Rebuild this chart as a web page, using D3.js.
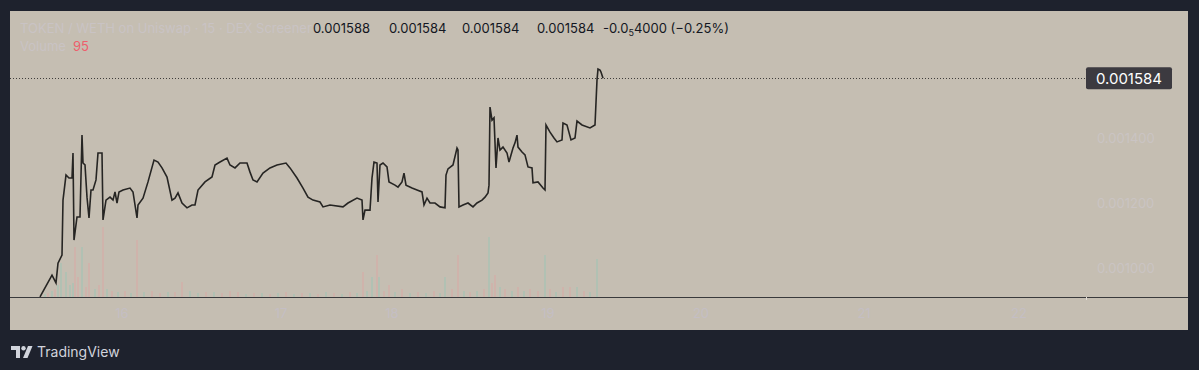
<!DOCTYPE html>
<html>
<head>
<meta charset="utf-8">
<script src="https://cdn.jsdelivr.net/npm/d3@7"></script>
<style>
  html, body { margin: 0; padding: 0; background: #1e222d; }
  svg { display: block; font-family: Inter, "Noto Sans", sans-serif; }
</style>
</head>
<body>
<svg id="chart" width="1199" height="370"></svg>
<script>
let width = 1199, height = 370;

// price line: [bar index, price]
let priceSeries = [
  [28, 0.000911], [40, 0.000978], [44, 0.000954], [46, 0.001015], [50, 0.001040],
  [51, 0.001209], [54, 0.001286], [57, 0.001277], [60, 0.001277], [61, 0.001354],
  [62, 0.001086], [65, 0.001157], [68, 0.001157], [70, 0.001409], [71, 0.001323],
  [73, 0.001317], [75, 0.001218], [77, 0.001154], [79, 0.001240], [81, 0.001240],
  [84, 0.001271], [86, 0.001354], [90, 0.001354], [91, 0.001148], [94, 0.001209],
  [98, 0.001218], [101, 0.001209], [103, 0.001234], [105, 0.001200], [107, 0.001234],
  [111, 0.001240], [118, 0.001246], [121, 0.001234], [125, 0.001154], [126, 0.001194],
  [131, 0.001215], [136, 0.001265], [142, 0.001332], [146, 0.001326], [150, 0.001308],
  [155, 0.001280], [160, 0.001209], [163, 0.001215], [166, 0.001231], [170, 0.001200],
  [175, 0.001185], [180, 0.001194], [183, 0.001194], [186, 0.001240], [193, 0.001265],
  [200, 0.001280], [203, 0.001317], [208, 0.001326], [215, 0.001338], [218, 0.001317],
  [223, 0.001308], [228, 0.001323], [235, 0.001323], [238, 0.001295], [241, 0.001271],
  [245, 0.001265], [251, 0.001292], [258, 0.001308], [265, 0.001317], [274, 0.001323],
  [278, 0.001308], [285, 0.001277], [291, 0.001246], [296, 0.001218], [301, 0.001209],
  [308, 0.001203], [311, 0.001188], [318, 0.001194], [331, 0.001188], [336, 0.001200],
  [345, 0.001215], [350, 0.001209], [351, 0.001148], [353, 0.001178], [358, 0.001178],
  [360, 0.001277], [362, 0.001326], [365, 0.001323], [366, 0.001203], [368, 0.001317],
  [371, 0.001323], [375, 0.001311], [377, 0.001265], [383, 0.001255], [386, 0.001249],
  [390, 0.001265], [392, 0.001292], [394, 0.001255], [400, 0.001246], [405, 0.001240],
  [410, 0.001234], [412, 0.001194], [415, 0.001215], [418, 0.001200], [423, 0.001200],
  [428, 0.001188], [433, 0.001185], [434, 0.001286], [436, 0.001305], [441, 0.001317],
  [445, 0.001369], [446, 0.001363], [447, 0.001188], [451, 0.001194], [456, 0.001200],
  [461, 0.001188], [465, 0.001200], [470, 0.001209], [473, 0.001218], [476, 0.001231],
  [477, 0.001255], [478, 0.001495], [480, 0.001455], [482, 0.001462], [484, 0.001308],
  [486, 0.001400], [488, 0.001363], [491, 0.001372], [495, 0.001354], [497, 0.001326],
  [501, 0.001369], [503, 0.001385], [505, 0.001409], [506, 0.001372], [510, 0.001357],
  [513, 0.001348], [516, 0.001311], [520, 0.001308], [521, 0.001262], [526, 0.001265],
  [531, 0.001246], [533, 0.001240], [534, 0.001440], [538, 0.001418], [542, 0.001400],
  [545, 0.001388], [550, 0.001394], [551, 0.001446], [555, 0.001440], [559, 0.001394],
  [563, 0.001400], [565, 0.001452], [570, 0.001440], [578, 0.001431], [583, 0.001440],
  [585, 0.001578], [586, 0.001612], [588, 0.001609], [589, 0.001603], [591, 0.001584]
];

// volume: [bar index, volume (K), 1 = up / 0 = down]
let volumeSeries = [
  [33, 3, 1], [36, 4, 0], [40, 6, 1], [43, 8, 0], [46, 12, 1], [49, 34, 1], [54, 25, 1],
  [58, 12, 1], [61, 14, 1], [63, 50, 0], [66, 20, 0], [70, 50, 1], [74, 10, 0], [77, 34, 0],
  [83, 8, 1], [87, 12, 0], [91, 70, 0], [95, 8, 1], [100, 6, 0], [106, 5, 1], [113, 6, 0],
  [119, 4, 1], [125, 57, 0], [132, 5, 1], [140, 6, 0], [148, 4, 0], [156, 5, 1], [163, 5, 0],
  [170, 15, 0], [178, 6, 1], [186, 4, 1], [194, 5, 0], [202, 5, 1], [210, 4, 0], [218, 6, 0],
  [226, 5, 0], [234, 3, 1], [242, 4, 0], [250, 4, 1], [258, 3, 0], [266, 4, 1], [274, 5, 0],
  [282, 3, 1], [290, 4, 0], [298, 4, 1], [306, 3, 0], [314, 5, 1], [322, 4, 0], [330, 3, 1],
  [338, 5, 0], [345, 4, 1], [351, 25, 0], [355, 6, 1], [360, 20, 1], [365, 42, 0], [367, 20, 1],
  [372, 6, 0], [377, 12, 0], [383, 5, 1], [390, 8, 0], [398, 4, 1], [406, 5, 0], [414, 4, 1],
  [422, 6, 0], [428, 4, 1], [433, 20, 1], [440, 8, 0], [446, 42, 0], [452, 6, 1], [458, 5, 0],
  [465, 6, 1], [472, 8, 0], [477, 60, 1], [480, 14, 0], [483, 22, 0], [488, 10, 1], [493, 8, 0],
  [500, 6, 1], [506, 10, 0], [512, 6, 1], [518, 8, 0], [526, 6, 0], [533, 42, 1], [538, 8, 0],
  [544, 5, 1], [551, 10, 0], [558, 10, 0], [565, 10, 1], [572, 6, 0], [578, 5, 1], [585, 38, 1]
];

let priceTicks = [0.0014, 0.0012, 0.001];
let priceTickLabels = ["0.001400", "0.001200", "0.001000"];
let timeTicks = [110, 269, 380, 536, 689, 852, 1007];
let timeTickLabels = ["16", "17", "18", "19", "20", "21", "22"];
let legendOHLC = ["0.001588", "0.001584", "0.001584", "0.001584"];
let lastPrice = 0.001584;
let lastVolume = "95";

let panelLeft = 10, panelTop = 11, panelRight = 1188, panelBottom = 330;
let plotRight = 1086, plotBottom = 297;

let x = d3.scaleLinear().domain([0, 1073]).range([12, 1085]);
let y = d3.scaleLinear().domain([0.001, 0.0014]).range([268, 138]);
let yVol = d3.scaleLinear().domain([0, 70]).range([plotBottom, plotBottom - 70]);

let svg = d3.select('#chart');

// beige chart panel
svg.append('rect')
    .attr('x', panelLeft).attr('y', panelTop)
    .attr('width', panelRight - panelLeft).attr('height', panelBottom - panelTop)
    .attr('fill', '#c5beb2');

// volume bars (very faint)
svg.append('g')
    .selectAll('rect')
    .data(volumeSeries)
    .enter().append('rect')
    .attr('x', (d) => x(d[0]) - 0.7)
    .attr('width', 1.4)
    .attr('y', (d) => yVol(d[1]))
    .attr('height', (d) => plotBottom - yVol(d[1]))
    .attr('fill', (d) => d[2] ? '#a9c2b4' : '#d3aea8');

// last price dotted line
svg.append('line')
    .attr('x1', panelLeft).attr('x2', plotRight - 1)
    .attr('y1', Math.round(y(lastPrice)) + 0.5).attr('y2', Math.round(y(lastPrice)) + 0.5)
    .attr('stroke', '#3f3d3b')
    .attr('stroke-width', 1)
    .attr('stroke-dasharray', '1,2');

// price line
let line = d3.line()
    .x((d) => x(d[0]))
    .y((d) => y(d[1]));

svg.append('path')
    .datum(priceSeries)
    .attr('d', line)
    .attr('fill', 'none')
    .attr('stroke', '#262523')
    .attr('stroke-width', 1.6)
    .attr('stroke-linejoin', 'miter');

// pane bottom border
svg.append('line')
    .attr('x1', panelLeft).attr('x2', panelRight)
    .attr('y1', plotBottom + 0.5).attr('y2', plotBottom + 0.5)
    .attr('stroke', '#3a3a3c').attr('stroke-width', 1);
svg.append('line')
    .attr('x1', plotRight + 0.5).attr('x2', plotRight + 0.5)
    .attr('y1', plotBottom).attr('y2', plotBottom + 3)
    .attr('stroke', '#e0dcd6').attr('stroke-width', 1);

// faint price axis labels
svg.append('g')
    .selectAll('text')
    .data(priceTicks)
    .enter().append('text')
    .attr('x', 1097)
    .attr('y', (d) => y(d))
    .attr('dy', '0.35em')
    .attr('font-size', 13)
    .attr('fill', '#cac4c3')
    .text((d, i) => priceTickLabels[i]);

// faint time axis labels
svg.append('g')
    .selectAll('text')
    .data(timeTicks)
    .enter().append('text')
    .attr('x', (d) => x(d))
    .attr('y', 313)
    .attr('dy', '0.35em')
    .attr('text-anchor', 'middle')
    .attr('font-size', 13)
    .attr('fill', '#c4bec4')
    .text((d, i) => timeTickLabels[i]);

// last price label
let priceLabel = svg.append('g').attr('transform', 'translate(1086,' + y(lastPrice) + ')');
priceLabel.append('rect')
    .attr('x', 0).attr('y', -11)
    .attr('width', 86).attr('height', 22)
    .attr('rx', 2)
    .attr('fill', '#3c3a40');
priceLabel.append('text')
    .attr('x', 43).attr('y', 0)
    .attr('dy', '0.36em')
    .attr('text-anchor', 'middle')
    .attr('font-size', 15)
    .attr('fill', '#ffffff')
    .text(lastPrice.toFixed(6));

// legend
svg.append('text')
    .attr('x', 20).attr('y', 28)
    .attr('dy', '0.35em')
    .attr('font-size', 13)
    .attr('fill', '#c9c3c4')
    .text('TOKEN / WETH on Uniswap · 15 · DEX Screener');

let ohlcX = [313, 389, 462, 537];
svg.append('g')
    .selectAll('text')
    .data(legendOHLC)
    .enter().append('text')
    .attr('x', (d, i) => ohlcX[i])
    .attr('y', 28)
    .attr('dy', '0.35em')
    .attr('font-size', 13)
    .attr('fill', '#131722')
    .text((d) => d);

let change = svg.append('text')
    .attr('x', 603).attr('y', 28)
    .attr('dy', '0.35em')
    .attr('font-size', 13)
    .attr('fill', '#131722');
change.append('tspan').text('-0.0');
change.append('tspan').attr('font-size', 9).attr('dy', 3).text('5');
change.append('tspan').attr('dy', -3).text('4000 (\u22120.25%)');

svg.append('text')
    .attr('x', 20).attr('y', 46)
    .attr('dy', '0.35em')
    .attr('font-size', 13)
    .attr('fill', '#c9c3c4')
    .text('Volume');
svg.append('text')
    .attr('x', 73).attr('y', 46)
    .attr('dy', '0.35em')
    .attr('font-size', 13)
    .attr('fill', '#ee5f6c')
    .text(lastVolume);

// TradingView logo
let logo = svg.append('g').attr('fill', '#d1d4dc');
logo.append('path').attr('d', 'M11,346 H20 V358 H16 V350 H11 Z');
logo.append('circle').attr('cx', 23.5).attr('cy', 348.2).attr('r', 2.2);
logo.append('path').attr('d', 'M28,346 H32.5 L27.5,358 H23 Z');
svg.append('text')
    .attr('x', 37).attr('y', 352)
    .attr('dy', '0.36em')
    .attr('font-size', 14)
    .attr('fill', '#d1d4dc')
    .text('TradingView');
</script>
</body>
</html>
